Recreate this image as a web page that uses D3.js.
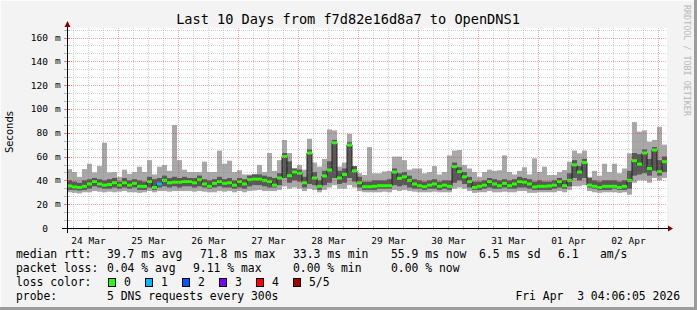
<!DOCTYPE html>
<html>
<head>
<meta charset="utf-8">
<script src="https://cdn.jsdelivr.net/npm/d3@7"></script>
<style>
  html, body { margin: 0; padding: 0; background: #f3f3f3; }
  svg { display: block; }
  text { font-family: "DejaVu Sans Mono", monospace; fill: #000; }
</style>
</head>
<body>
<svg id="chart"></svg>
<script>
// rtt in ms, one value per 2 hour step
const median = [35.3,34.5,34,35,37,39,37,36,36.5,38, 36,38,36,37.5,35,35,39,34,37,40,
  38,38.5,38.5,39,39,38,40.5,37,35,37.5, 39,37.5,38,36,39,37,40.6,41,41,40,
  39,36,42,60,44,47,46,38,63,42, 35,43.7,48.7,71.6,42,45,69.7,48,38,34.7,
  34.7,35,35.5,35.5,35.5,47,41.7,43,40,37, 35.5,34.7,36,37,35,36,35,51.5,47.3,43,
  39,34,35,36,39,37,35.5,37.5,35.5,37, 39,38.5,37,34.5,35,35,35.3,36,39,35.5,
  40,53,47,55,36,35,34,35,35,35, 34,35,40,56.5,53.7,63,50,65.5,47.3,55.7];
const pingMin = [30,29.5,29,30,30,31,30.5,30,30.5,30, 30.5,31,30,30,29.5,30,31,30,31,31,
  30.5,31,31,31,31,30.5,31,30.5,30,30, 31,30.5,31,30,31,30,31,31.5,32,31,
  31,31,32,35,33,34,33,31,33,32, 30,32,34,36,33,33,36,34,31,30,
  30,30,30,30.5,30,32,31,32,31,30.5, 30,30,30,30.5,30,30,30,33,34,33,
  31,29.5,30,30,31,30,30,30.5,30,30, 31,31,29.5,29.5,30,30,30,30,31,30,
  32,35,35,36,31,30,29.5,30,30,30, 29.5,30,28,38,40,40,38,42,40,42];
const pingLow = [32,32,31.5,32,33,35,34,33,33,34, 33,34,33,34,32,32,34,32,34,35,
  34,35,34,35,35,34,35,34,33,34, 35,34,34,33,34,33,35,36,36,35,
  34,34,36,42,38,40,39,34,37,36, 32,36,38,42,37,38,42,39,34,32,
  32,32,33,33,33,36,35,36,34,33, 33,32,33,33,32,33,32,38,40,37,
  34,32,32,33,34,33,33,34,33,33, 34,34,33,32,32,32,32,33,34,33,
  35,42,40,42,34,33,32,32,32,33, 32,32,33,44,45,46,44,48,44,47];
const pingHigh = [40,39,38,40,41,42,41,40,41,42, 39,42,40,41,40,39,43,41,42,44,
  42,43,42,43,42,42,44,41,40,41, 43,41,42,40,42,41,44,45,45,44,
  43,42,46,63,56,50,49,43,66,47, 40,48,56,74,48,50,72,52,43,39,
  39,40,40,40,41,50,46,47,44,41, 40,39,40,41,39,40,40,55,51,47,
  43,39,39,40,42,41,40,41,40,41, 43,42,41,39,40,39,39,40,42,40,
  46,57,52,58,42,40,39,40,40,40, 39,40,48,63,62,66,58,68,57,60];
const pingMax = [49.5,47,43,49.5,54,46.7,52,71.6,46.7,47, 43,49,45.5,47,51.5,47,57,45,51.5,52.9,
  48,86.5,57,49,47,47,47,55.7,47,47, 65,54,56.5,47,48.5,45,45,45.5,52.9,47,
  63,48,57,74,63,50,53,49,75,55, 51.5,58,82.8,82,51.5,55,79,52,46,44.5,
  68,46,46,47.5,48,60,60,57,49,50, 50,46,47,52,45,47,61,65,65.5,53,
  50,47,43,47,49,48,48.5,61,47,45, 48,51,45,58.5,47,51.5,44.5,44.5,47,48.7,
  55.7,65,62.7,65,43,48,44,54,47,54, 46,50,62.7,89,81,82,72.5,74,85,70];
// [step index, lost pings] for the steps that were not loss free
const lossPoints = [[18, 1]];

const yTicks = [0, 20, 40, 60, 80, 100, 120, 140, 160];
const dayLabels = ["24 Mar", "25 Mar", "26 Mar", "27 Mar", "28 Mar", "29 Mar", "30 Mar", "31 Mar", "01 Apr", "02 Apr"];
const lossLabels = ["0", "1", "2", "3", "4", "5/5"];
const lossColors = ["#26ff00", "#00b8ff", "#0059ff", "#7e00ff", "#ff0000", "#a10000"];

const rttStats = ["39.7 ms avg", "71.8 ms max", "33.3 ms min", "55.9 ms now", "6.5 ms sd", "6.1", "am/s"];
const lossStats = ["0.04 % avg", "9.11 % max", "0.00 % min", "0.00 % now"];

const width = 697, height = 310;
const svg = d3.select("#chart").attr("width", width).attr("height", height);

// frame
svg.append("rect").attr("width", width).attr("height", height).attr("fill", "#f3f3f3");
svg.append("path").attr("d", `M0.5,${height} V0.5 H${width}`).attr("fill", "none").attr("stroke", "#fcfcfc");
svg.append("path").attr("d", `M0,${height - 1.5} H${width - 1.5} V0`).attr("fill", "none").attr("stroke", "#9c9c9c").attr("stroke-width", 3);

const start = new Date(Date.UTC(2026, 2, 24, 3, 36));
const end = d3.utcHour.offset(start, 240);
const times = median.map((d, i) => d3.utcHour.offset(start, 2 * i));

const x = d3.scaleUtc().domain([start, end]).range([67, 667]);
const y = d3.scaleLinear().domain([0, 168]).range([228, 28]);

svg.append("rect")
    .attr("x", 67).attr("y", 28)
    .attr("width", 600).attr("height", 200)
    .attr("fill", "#fff");

const data = median.map((m, i) => ({
    t0: times[i], t1: d3.utcHour.offset(times[i], 2),
    med: m, lo: pingMin[i], q1: pingLow[i], q3: pingHigh[i], hi: pingMax[i], loss: 0
}));
lossPoints.forEach(([i, l]) => data[i].loss = l);

const g = svg.append("g");

// smoke: outer pings
g.selectAll(".outer").data(data).join("rect")
    .attr("x", d => x(d.t0)).attr("width", d => x(d.t1) - x(d.t0))
    .attr("y", d => y(d.hi)).attr("height", d => y(d.lo) - y(d.hi))
    .attr("fill", "#a8a8a8");

// smoke: inner pings
g.selectAll(".inner").data(data).join("rect")
    .attr("x", d => x(d.t0)).attr("width", d => x(d.t1) - x(d.t0))
    .attr("y", d => y(d.q3)).attr("height", d => y(d.q1) - y(d.q3))
    .attr("fill", "#595959");

// median line
const stepLine = d3.line()
    .x(d => x(d.t))
    .y(d => y(d.v))
    .curve(d3.curveStepAfter);
const medPts = data.map(d => ({t: d.t0, v: d.med}));
medPts.push({t: end, v: median[median.length - 1]});
g.append("path")
    .attr("d", stepLine(medPts))
    .attr("fill", "none")
    .attr("stroke", "#202020")
    .attr("stroke-width", 1);

g.selectAll(".med").data(data).join("rect")
    .attr("x", d => x(d.t0)).attr("width", d => x(d.t1) - x(d.t0))
    .attr("y", d => y(d.med) - 1.5).attr("height", 3)
    .attr("fill", d => lossColors[d.loss]);

// grid on top, dotted like rrdtool
const grid = svg.append("g").attr("stroke-dasharray", "1,1").attr("shape-rendering", "crispEdges");
const minorX = d3.utcHour.every(6).range(start, end).filter(t => t.getUTCHours() !== 0);
const majorX = d3.utcDay.range(start, end);
grid.selectAll(".vx").data(minorX).join("line")
    .attr("x1", d => Math.round(x(d)) + 0.5).attr("x2", d => Math.round(x(d)) + 0.5)
    .attr("y1", 28).attr("y2", 228)
    .attr("stroke", "rgba(128,128,128,0.35)");
grid.selectAll(".vm").data(majorX).join("line")
    .attr("x1", d => Math.round(x(d)) + 0.5).attr("x2", d => Math.round(x(d)) + 0.5)
    .attr("y1", 28).attr("y2", 228)
    .attr("stroke", "rgba(255,0,0,0.35)");

const minorY = d3.range(0, 168, 20 / 3).filter((v, i) => i % 3 !== 0);
grid.selectAll(".hy").data(minorY).join("line")
    .attr("x1", 67).attr("x2", 667)
    .attr("y1", d => Math.round(y(d)) + 0.5).attr("y2", d => Math.round(y(d)) + 0.5)
    .attr("stroke", "rgba(128,128,128,0.35)");
grid.selectAll(".hm").data(yTicks.slice(1)).join("line")
    .attr("x1", 67).attr("x2", 667)
    .attr("y1", d => Math.round(y(d)) + 0.5).attr("y2", d => Math.round(y(d)) + 0.5)
    .attr("stroke", "rgba(255,0,0,0.35)");

// axes
const xAxis = svg.append("g")
    .attr("transform", "translate(0,228)")
    .call(d3.axisBottom(x)
        .tickValues(dayLabels.map((l, i) => d3.utcHour.offset(d3.utcDay.floor(start), 24 * i + 12)))
        .tickFormat((d, i) => dayLabels[i])
        .tickSize(0).tickPadding(9));
xAxis.select(".domain").remove();
xAxis.selectAll("text").attr("font-family", "DejaVu Sans Mono").attr("font-size", "9.5px").attr("fill", "#000");

const yAxis = svg.append("g")
    .attr("transform", "translate(48,0)")
    .call(d3.axisLeft(y).tickValues(yTicks).tickFormat(d3.format("d")).tickSize(0).tickPadding(0));
yAxis.select(".domain").remove();
yAxis.selectAll("text").attr("font-family", "DejaVu Sans Mono").attr("font-size", "9.5px").attr("fill", "#000");
svg.append("g").selectAll("text").data(yTicks.filter(v => v > 0)).join("text")
    .attr("x", 55).attr("y", d => y(d)).attr("dy", "0.32em")
    .attr("font-size", "9.5px")
    .text("m");

// tick marks on the axes
svg.append("g").selectAll("line").data(minorX.concat(majorX)).join("line")
    .attr("x1", d => Math.round(x(d)) + 0.5).attr("x2", d => Math.round(x(d)) + 0.5)
    .attr("y1", 226).attr("y2", 230)
    .attr("stroke", d => d.getUTCHours() === 0 ? "rgba(255,0,0,0.5)" : "rgba(128,128,128,0.5)");
svg.append("g").selectAll("line").data(yTicks.concat(minorY)).join("line")
    .attr("x1", 64).attr("x2", 70)
    .attr("y1", d => Math.round(y(d)) + 0.5).attr("y2", d => Math.round(y(d)) + 0.5)
    .attr("stroke", d => yTicks.includes(d) ? "rgba(255,0,0,0.5)" : "rgba(128,128,128,0.5)");

svg.append("line").attr("x1", 62).attr("x2", 669).attr("y1", 228.5).attr("y2", 228.5)
    .attr("stroke", "#000");
svg.append("line").attr("x1", 67.5).attr("x2", 67.5).attr("y1", 233).attr("y2", 24)
    .attr("stroke", "#000");
svg.append("path").attr("d", "M668,225.5 L673,228.5 L668,231.5 Z").attr("fill", "#800000");
svg.append("path").attr("d", "M64.5,27 L67.5,21 L70.5,27 Z").attr("fill", "#800000");

// titles
svg.append("text")
    .attr("x", 348).attr("y", 23.5)
    .attr("text-anchor", "middle")
    .attr("font-size", "13.6px")
    .text("Last 10 Days from f7d82e16d8a7 to OpenDNS1");

svg.append("text")
    .attr("transform", "translate(13,132) rotate(-90)")
    .attr("text-anchor", "middle")
    .style("font-family", "DejaVu Sans")
    .attr("font-size", "10px")
    .text("Seconds");

svg.append("text")
    .attr("transform", "translate(684,5) rotate(90)")
    .attr("font-size", "8.4px")
    .style("fill", "#b8b8b8")
    .text("RRDTOOL / TOBI OETIKER");

// legend
const legend = svg.append("g").attr("font-size", "11.4px");
legend.append("text").attr("x", 16).attr("y", 258).text("median rtt:");
[107, 200, 293, 391, 479, 558, 600].forEach((px, i) =>
    legend.append("text").attr("x", px).attr("y", 258).text(rttStats[i]));

legend.append("text").attr("x", 16).attr("y", 272).text("packet loss:");
[107, 193, 293, 391].forEach((px, i) =>
    legend.append("text").attr("x", px).attr("y", 272).text(lossStats[i]));

legend.append("text").attr("x", 16).attr("y", 286).text("loss color:");
lossLabels.forEach((l, i) => {
    const bx = 108.5 + i * 37;
    legend.append("rect")
        .attr("x", bx).attr("y", 278.5)
        .attr("width", 7).attr("height", 8)
        .attr("fill", lossColors[i]).attr("stroke", "#000");
    legend.append("text").attr("x", bx + 15.5).attr("y", 286).text(l);
});

legend.append("text").attr("x", 16).attr("y", 300).text("probe:");
legend.append("text").attr("x", 107).attr("y", 300).text("5 DNS requests every 300s");
legend.append("text").attr("x", 680).attr("y", 300).attr("text-anchor", "end")
    .style("white-space", "pre")
    .text("Fri Apr  3 04:06:05 2026");
</script>
</body>
</html>
